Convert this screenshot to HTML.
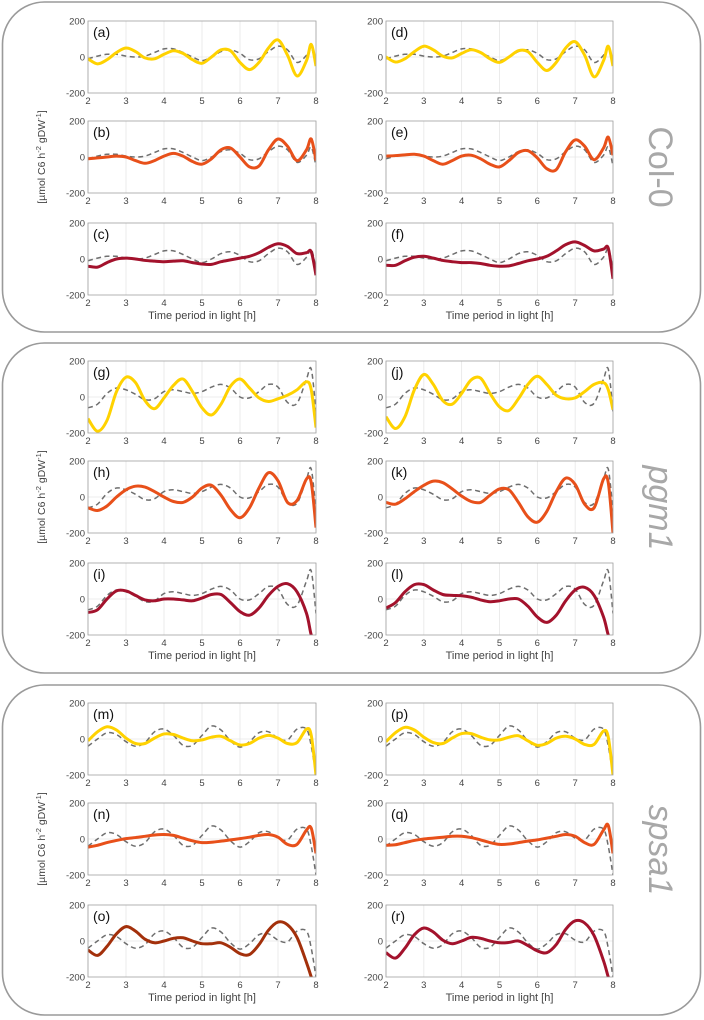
<!DOCTYPE html>
<html><head><meta charset="utf-8"><style>
html,body{margin:0;padding:0;background:#fff;}
svg{display:block;font-family:"Liberation Sans",sans-serif;}
</style></head><body>
<svg id="fig" width="704" height="1020" viewBox="0 0 704 1020"></svg>
<script>
const times=[2,2.25,2.5,2.75,3,3.25,3.5,3.75,4,4.25,4.5,4.75,5,5.25,5.5,5.75,6,6.25,6.5,6.75,7,7.25,7.5,7.75,7.875,8];
const xTicks=[2,3,4,5,6,7,8];
const yTicks=[200,0,-200];
const genotypes=["Col-0","pgm1","spsa1"];
const dashCol0=[-10,5,15,15,5,0,5,25,45,45,25,0,-20,0,30,40,20,-15,-10,30,60,40,-30,10,55,-50];
const dashPgm1=[-60,-40,20,50,40,15,-15,-10,30,40,30,20,30,55,70,50,0,-5,30,70,55,-30,-35,100,155,-80];
const dashSpsa1=[-40,0,35,25,-15,-40,-20,40,55,20,-35,-35,20,72,50,-10,-45,-15,35,40,5,-5,55,55,-40,-200];
const sA=[-10,-38,-15,25,50,30,-5,-10,15,35,20,-15,-35,0,40,35,-30,-70,-30,50,95,10,-105,-20,70,-50];
const sB=[-10,-5,0,5,0,-20,-35,-20,5,20,5,-25,-40,-10,40,50,0,-55,-50,40,100,60,-20,40,100,-20];
const sC=[-40,-45,-20,0,5,0,-8,-12,-15,-12,-10,-20,-28,-30,-15,-5,5,15,35,65,85,70,30,35,40,-90];
const sD=[0,-28,-10,30,60,40,5,-5,20,40,25,-10,-30,0,35,30,-30,-75,-30,50,85,10,-110,-20,60,-50];
const sE=[5,8,12,15,5,-20,-40,-20,5,10,-10,-40,-55,-20,25,35,-5,-65,-70,30,95,60,-15,50,110,10];
const sF=[-35,-35,-10,10,15,5,-8,-15,-20,-20,-25,-35,-40,-38,-25,-10,0,15,45,80,95,75,45,55,60,-110];
const sG=[-120,-190,-130,30,110,80,-20,-65,-5,65,100,30,-60,-100,-40,60,100,50,-5,-25,-10,10,40,85,40,-170];
const sH=[-60,-75,-50,0,40,60,55,30,0,-25,-30,0,50,65,10,-70,-115,-60,50,135,90,-30,-20,100,80,-170];
const sI=[-75,-60,0,45,45,20,-5,-10,0,0,-5,-10,5,25,25,-20,-70,-90,-50,20,70,85,40,-80,-200,-250];
const sJ=[-110,-175,-110,40,125,70,-20,-40,20,95,105,20,-55,-75,-10,70,115,70,10,-10,-5,30,70,80,40,-70];
const sK=[-30,-40,-10,30,65,88,80,45,5,-25,-30,10,45,40,-30,-110,-140,-80,30,105,70,-40,-60,100,80,-200];
const sL=[-50,-20,40,80,80,50,25,20,18,10,-5,-15,-10,0,0,-40,-100,-130,-90,-10,50,65,20,-100,-200,-260];
const sM=[-10,40,68,50,5,-25,-25,5,28,25,5,-10,-5,10,15,-10,-33,-25,5,20,5,-25,-20,55,20,-200];
const sN=[-45,-35,-20,-8,2,8,15,22,25,20,5,-10,-20,-18,-12,-5,2,10,20,25,10,-30,-30,50,60,-80];
const sO=[-50,-80,-30,40,80,55,10,-10,0,15,18,0,-15,-15,-10,-35,-70,-75,-20,60,105,90,20,-120,-200,-280];
const sP=[-15,35,65,50,10,-20,-25,5,30,30,10,-5,-5,10,18,-10,-35,-25,5,15,0,-30,-30,45,10,-200];
const sQ=[-35,-32,-20,-8,0,5,10,15,15,8,-5,-20,-30,-28,-20,-12,-5,5,15,25,15,-20,-30,50,75,-80];
const sR=[-65,-95,-40,35,72,50,5,-15,0,20,15,0,-10,-8,0,-25,-55,-65,-20,65,112,100,30,-110,-200,-280];

const NS="http://www.w3.org/2000/svg";
const svg=document.getElementById('fig');
function mk(tag,attrs,parent){const e=document.createElementNS(NS,tag);for(const k in attrs)e.setAttribute(k,attrs[k]);(parent||svg).appendChild(e);return e;}
const panelTops=[2,343,685];
const panelOff=[0,340,682];
const rowTops=[21,121,223];
const PH=72;
const cols=[{x0:88,x1:316},{x0:386,x1:613}];
const yellow="#ffd200",orange="#e8501a",dred="#a3122c",brown="#a3300b";
const plots=[
 [["a",sA,yellow,dashCol0],["b",sB,orange,dashCol0],["c",sC,dred,dashCol0],["d",sD,yellow,dashCol0],["e",sE,orange,dashCol0],["f",sF,dred,dashCol0]],
 [["g",sG,yellow,dashPgm1],["h",sH,orange,dashPgm1],["i",sI,dred,dashPgm1],["j",sJ,yellow,dashPgm1],["k",sK,orange,dashPgm1],["l",sL,dred,dashPgm1]],
 [["m",sM,yellow,dashSpsa1],["n",sN,orange,dashSpsa1],["o",sO,brown,dashSpsa1],["p",sP,yellow,dashSpsa1],["q",sQ,orange,dashSpsa1],["r",sR,dred,dashSpsa1]]
];
function pathFor(vals,xs,ys){
  const p=times.map((t,i)=>[xs(t),ys(vals[i])]);
  let d="M"+p[0][0].toFixed(2)+","+p[0][1].toFixed(2);
  for(let i=0;i<p.length-1;i++){
    const p0=p[i-1]||p[i],p1=p[i],p2=p[i+1],p3=p[i+2]||p[i+1];
    const c1=[p1[0]+(p2[0]-p0[0])/6,p1[1]+(p2[1]-p0[1])/6];
    const c2=[p2[0]-(p3[0]-p1[0])/6,p2[1]-(p3[1]-p1[1])/6];
    d+="C"+c1[0].toFixed(2)+","+c1[1].toFixed(2)+" "+c2[0].toFixed(2)+","+c2[1].toFixed(2)+" "+p2[0].toFixed(2)+","+p2[1].toFixed(2);
  }
  return d;
}
genotypes.forEach((g,gi)=>{
  const pt=panelTops[gi], off=panelOff[gi];
  const grp=mk('g',{});
  
  
  const box=mk('rect',{x:2.5,y:pt,width:698,height:330,rx:42,ry:42,fill:'none',stroke:'#9a9a9a','stroke-width':1.6},grp);
  
  
  const lab=mk('text',{x:0,y:0,'font-size':34,fill:'#a8a8a8',transform:`translate(649,${pt+165}) rotate(90)`,'text-anchor':'middle','font-style':gi>0?'italic':'normal'},grp);
  lab.textContent=g;
  
  
  const yt=mk('text',{x:0,y:0,'font-size':10.5,fill:'#444',transform:`translate(45,${off+rowTops[1]+PH/2}) rotate(-90)`,'text-anchor':'middle'},grp);
  yt.innerHTML='[µmol C6 h<tspan dy="-4" font-size="7.5">-2</tspan><tspan dy="4"> gDW</tspan><tspan dy="-4" font-size="7.5">-1</tspan><tspan dy="4">]</tspan>';
  
  
  plots[gi].forEach((pl,pi)=>{
    const c=cols[Math.floor(pi/3)], r=pi%3;
    const top=off+rowTops[r], bot=top+PH;
    const xs=t=>c.x0+(t-2)/6*(c.x1-c.x0);
    const ys=v=>top+(200-v)/400*PH;
    const sg=mk('g',{},grp);
    
    
    xTicks.forEach(t=>{
      const gl=mk('line',{x1:xs(t),x2:xs(t),y1:top,y2:bot,stroke:'#e6e6e6','stroke-width':0.8},sg);
      
      
      const tl=mk('text',{x:xs(t),y:bot+11,'font-size':9.5,fill:'#444','text-anchor':'middle'},sg);
      tl.textContent=t;
      
      
    });
    const zl=mk('line',{x1:c.x0,x2:c.x1,y1:ys(0),y2:ys(0),stroke:'#e6e6e6','stroke-width':0.8},sg);
    
    
    yTicks.forEach(v=>{
      const tl=mk('text',{x:c.x0-3,y:ys(v)+3.5,'font-size':9.5,fill:'#444','text-anchor':'end'},sg);
      tl.textContent=v;
      
      
    });
    const cid='clip'+pl[0];
    const cp=mk('clipPath',{id:cid},sg);
    mk('rect',{x:c.x0,y:top,width:c.x1-c.x0,height:PH},cp);
    const dl=mk('path',{d:pathFor(pl[3],xs,ys),fill:'none',stroke:'#6e6e6e','stroke-width':1.5,'stroke-dasharray':'5,3.5','clip-path':`url(#${cid})`},sg);
    
    
    const sl=mk('path',{d:pathFor(pl[1],xs,ys),fill:'none',stroke:pl[2],'stroke-width':3,'stroke-linejoin':'round','clip-path':`url(#${cid})`},sg);
    
    
    const fr=mk('rect',{x:c.x0,y:top,width:c.x1-c.x0,height:PH,fill:'none',stroke:'#a0a0a0','stroke-width':0.8},sg);
    
    
    const pl_=mk('text',{x:c.x0+5,y:top+16,'font-size':14,fill:'#111'},sg);
    pl_.textContent='('+pl[0]+')';
    
    
    if(r===2){
      const xt=mk('text',{x:(c.x0+c.x1)/2,y:bot+24,'font-size':11,fill:'#444','text-anchor':'middle'},sg);
      xt.textContent='Time period in light [h]';
      
      
    }
  });
});
</script>
</body></html>
